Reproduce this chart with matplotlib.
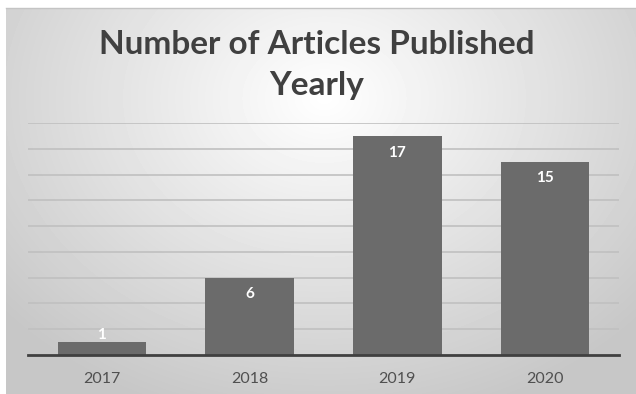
import matplotlib
matplotlib.use("Agg")
import matplotlib.pyplot as plt
import numpy as np

years = ["2017", "2018", "2019", "2020"]
articles = [1, 6, 17, 15]
title = "Number of Articles Published\nYearly"

fig = plt.figure(figsize=(6.36, 3.94), dpi=100)
fig.patch.set_facecolor("white")

# radial grey background like the office chart style
bg = fig.add_axes([6 / 636, 0, 630 / 636, 386 / 394])
h, w = 386, 630
yy, xx = np.mgrid[0:h, 0:w]
r = np.sqrt(((xx - 318) / 420.0) ** 2 + ((yy - 90) / 330.0) ** 2)
shade = 1.0 - 0.22 * np.clip(r, 0, 1)
bg.imshow(shade, cmap="gray", vmin=0, vmax=1, aspect="auto", interpolation="bilinear")
bg.set_axis_off()
fig.add_artist(plt.Line2D([6 / 636, 1], [1 - 8 / 394, 1 - 8 / 394],
                          color="#c4c4c4", lw=1))

ax = fig.add_axes([28 / 636, 1 - 355 / 394, 591 / 636, 232 / 394])
ax.patch.set_alpha(0)
x = np.arange(len(years))
bars = ax.bar(x, articles, width=0.6, color="#6b6b6b", zorder=3)

ax.set_xlim(-0.5, len(years) - 0.5)
ax.set_ylim(0, 18)
ax.set_yticks(np.arange(0, 19, 2))
ax.yaxis.grid(True, color="#c0c0c0", lw=1.2, zorder=0)
ax.tick_params(axis="y", left=False, labelleft=False)
ax.set_xticks(x)
ax.set_xticklabels(years, fontsize=11.5, color="#505050", family="Lato")
ax.tick_params(axis="x", bottom=False, pad=9)
for s in ["top", "right", "left"]:
    ax.spines[s].set_visible(False)
ax.spines["bottom"].set_color("#404040")
ax.spines["bottom"].set_linewidth(2)
ax.spines["bottom"].set_zorder(4)

for xi, v in zip(x, articles):
    if v >= 2:
        ax.annotate(str(v), (xi, v), xytext=(0, -12), textcoords="offset points",
                    ha="center", va="center", color="white", fontsize=11,
                    fontweight="bold", family="Lato", zorder=5)
    else:
        ax.annotate(str(v), (xi, v), xytext=(0, 5), textcoords="offset points",
                    ha="center", va="center", color="white", fontsize=11,
                    fontweight="bold", family="Lato", zorder=5)

fig.text(317 / 636, 1 - 65 / 394, title, ha="center", va="center",
         fontsize=24, fontweight="bold", color="#404040", family="Lato",
         linespacing=1.5)

fig.savefig("out.png", dpi=100)
